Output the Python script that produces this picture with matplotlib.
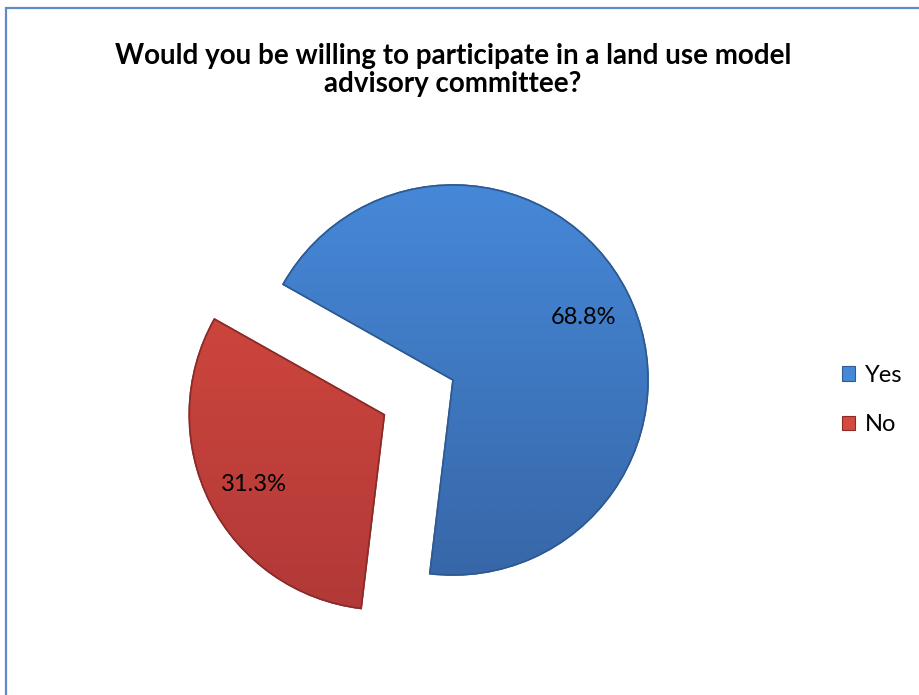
import numpy as np
import matplotlib
matplotlib.use("Agg")
import matplotlib.pyplot as plt
from matplotlib.patches import Rectangle, Wedge
from matplotlib.colors import LinearSegmentedColormap

plt.rcParams['font.family'] = ['Lato', 'DejaVu Sans']

# survey answers
answers = ['Yes', 'No']
shares = [68.8, 31.3]
pct_labels = ['68.8%', '31.3%']
title = 'Would you be willing to participate in a land use model\nadvisory committee?'

# colours: top / bottom of each slice's gradient
tops = ['#4688D8', '#D5493F']
bottoms = ['#3767A8', '#B23937']
edges = ['#2E5A92', '#8A2B29']

W, H = 920, 695
fig = plt.figure(figsize=(W / 100, H / 100), dpi=100)
ax = fig.add_axes([0, 0, 1, 1])

# pie laid out in pixel units so size and offsets are easy to set
R = 195
wedges, texts = ax.pie(shares, radius=R, center=(453, H - 380),
                       startangle=150.6, counterclock=False,
                       explode=[0, 77], colors=tops,
                       labels=None, wedgeprops=dict(linewidth=1.2))

# vertical gradient inside each slice
for w, top, bot, ec in zip(wedges, tops, bottoms, edges):
    w.set_edgecolor(ec)
    cx, cy = w.center
    cmap = LinearSegmentedColormap.from_list('g', [bot, top])
    grad = np.linspace(0, 1, 256).reshape(-1, 1)
    im = ax.imshow(grad, cmap=cmap, origin='lower', aspect='auto',
                   extent=(cx - R, cx + R, cy - R, cy + R), zorder=1.5)
    im.set_clip_path(w)
    ax.add_patch(Wedge(w.center, R, w.theta1, w.theta2, fill=False,
                       edgecolor=ec, linewidth=1.2, zorder=2))

# percentage labels inside the slices
for w, lab in zip(wedges, pct_labels):
    ang = np.deg2rad((w.theta1 + w.theta2) / 2)
    cx, cy = w.center
    ax.text(cx + 0.75 * R * np.cos(ang), cy + 0.75 * R * np.sin(ang) - 4, lab,
            ha='center', va='center', fontsize=17, color='black', zorder=3)

ax.set_xlim(0, W)
ax.set_ylim(0, H)
ax.set_aspect('equal')
ax.axis('off')

fig.text(453 / W, 1 - 70 / H, title, ha='center', va='center',
         fontsize=20, fontweight='bold', linespacing=1.12)

handles = [Rectangle((0, 0), 1, 1, facecolor=c, edgecolor=e, linewidth=0.8)
           for c, e in zip(tops, edges)]
fig.legend(handles, answers, loc='center left',
           bbox_to_anchor=(821 / W, 1 - 400 / H), frameon=False,
           fontsize=17, handlelength=0.55, handleheight=0.55,
           handletextpad=0.4, labelspacing=1.2)

# chart frame
fig.patches.append(Rectangle((6 / W, -0.05), 1, 1 - 8 / H + 0.05,
                             transform=fig.transFigure, fill=False,
                             edgecolor='#5F8BCB', linewidth=1.6))

fig.savefig('out.png', dpi=100, facecolor='white')
